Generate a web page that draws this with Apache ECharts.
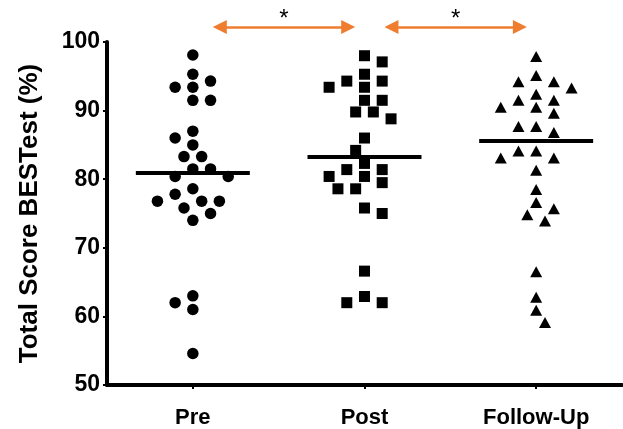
<!DOCTYPE html>
<html>
<head>
<meta charset="utf-8">
<script src="https://cdn.jsdelivr.net/npm/echarts@6/dist/echarts.min.js"></script>
<style>
  html, body { margin: 0; padding: 0; background: #fff; }
  #chart { width: 623px; height: 429px; }
</style>
</head>
<body>
<div id="chart"></div>
<script>
// ---- data ----
var groups = ['Pre', 'Post', 'Follow-Up'];
var preScores = [98.1, 95.3, 94.3, 93.4, 93.4, 91.5, 91.5, 87.0, 86.0, 85.0, 83.3, 83.3, 81.5, 81.5,
                 80.4, 80.4, 78.6, 77.8, 76.8, 76.8, 76.8, 75.8, 75.0, 74.0, 63.0, 62.0, 61.0, 54.6];
var postScores = [98.0, 97.1, 95.3, 94.3, 94.3, 93.4, 93.4, 91.5, 91.5, 89.8, 89.8, 88.8, 86.0, 84.2,
                  82.3, 81.4, 81.4, 80.4, 80.4, 79.5, 78.6, 78.6, 75.8, 75.0, 66.6, 62.9, 62.0, 62.0];
var followUpScores = [97.9, 95.1, 94.2, 94.2, 93.3, 92.4, 91.5, 91.5, 90.5, 90.5, 89.6, 87.7, 87.7, 86.8,
                      84.1, 84.1, 83.1, 83.1, 81.3, 78.5, 76.6, 75.7, 74.8, 73.9, 66.5, 62.8, 60.9, 59.1];
var groupMeans = [80.9, 83.2, 85.6];
var yTicks = [50, 60, 70, 80, 90, 100];
// significant pairwise comparisons (group index pairs)
var comparisons = [[0, 1], [1, 2]];
var comparisonLabels = ['*', '*'];

var allScores = [preScores, postScores, followUpScores];
var symbols = ['circle', 'rect', 'triangle'];
var symbolSizes = [11.5, 11, [12, 11]];

var FONT = '"Liberation Sans", Arial, sans-serif';
var ORANGE = '#EE7D2F';

var chart = echarts.init(document.getElementById('chart'), null, { renderer: 'canvas' });

var hiddenValueX = function (gridIndex) {
  return { type: 'value', gridIndex: gridIndex, min: -0.5, max: 2.5, show: false };
};

chart.setOption({
  animation: false,
  backgroundColor: '#fff',
  grid: [
    { left: 107, right: 1, top: 42, bottom: 43 },
    { left: 107, right: 1, top: 0, height: 42 } // strip above the plot for the comparison arrows
  ],
  xAxis: [
    {
      type: 'category',
      gridIndex: 0,
      data: groups,
      boundaryGap: true,
      axisLine: { lineStyle: { color: '#000', width: 4 } },
      axisTick: { show: true, alignWithLabel: true, length: 4, lineStyle: { color: '#000', width: 2 } },
      axisLabel: { color: '#000', fontFamily: FONT, fontWeight: 'bold', fontSize: 22, margin: 22 },
      splitLine: { show: false }
    },
    hiddenValueX(0),
    hiddenValueX(1)
  ],
  yAxis: [
    {
      type: 'value',
      gridIndex: 0,
      min: yTicks[0],
      max: yTicks[yTicks.length - 1],
      interval: 10,
      name: 'Total Score BESTest (%)',
      nameLocation: 'middle',
      nameGap: 64,
      nameTextStyle: { color: '#000', fontFamily: FONT, fontWeight: 'bold', fontSize: 26 },
      axisLine: { show: true, onZero: false, lineStyle: { color: '#000', width: 4 } },
      axisTick: { show: true, length: 4, lineStyle: { color: '#000', width: 2 } },
      axisLabel: { color: '#000', fontFamily: FONT, fontWeight: 'bold', fontSize: 23, margin: 7 },
      splitLine: { show: false }
    },
    { type: 'value', gridIndex: 1, min: 0, max: 1, show: false }
  ]
});

// simple beeswarm: place points from high to low, nudging sideways in fixed steps until free
var STEP_PX = 8.85, MIN_DIST_PX = 13;
function swarmOffsets(values, pxPerCat, pxPerVal) {
  var order = values.map(function (v, i) { return i; })
    .sort(function (a, b) { return values[b] - values[a]; });
  var placed = [], offsets = [], balance = 0;
  order.forEach(function (i) {
    var py = values[i] * pxPerVal;
    var free = function (k) {
      var px = k * STEP_PX;
      return placed.every(function (p) {
        var dx = p.x - px, dy = p.y - py;
        return dx * dx + dy * dy >= MIN_DIST_PX * MIN_DIST_PX;
      });
    };
    var k = 0;
    if (!free(0)) {
      for (var n = 1; n < 40; n++) {
        var first = balance > 0 ? -n : n, second = -first;
        if (free(first)) { k = first; break; }
        if (free(second)) { k = second; break; }
      }
    }
    balance += k;
    placed.push({ x: k * STEP_PX, y: py });
    offsets[i] = k * STEP_PX / pxPerCat;
  });
  return offsets;
}

var p0 = chart.convertToPixel({ xAxisIndex: 1, yAxisIndex: 0 }, [0, 50]);
var p1 = chart.convertToPixel({ xAxisIndex: 1, yAxisIndex: 0 }, [1, 60]);
var pxPerCat = p1[0] - p0[0];
var pxPerVal = (p0[1] - p1[1]) / 10;

var MEAN_HALF = 0.332;
var series = allScores.map(function (scores, g) {
  var offs = swarmOffsets(scores, pxPerCat, pxPerVal);
  return {
    name: groups[g],
    type: 'scatter',
    xAxisIndex: 1,
    yAxisIndex: 0,
    symbol: symbols[g],
    symbolSize: symbolSizes[g],
    itemStyle: { color: '#000', opacity: 1 },
    data: scores.map(function (v, i) { return [g + offs[i], v]; }),
    markLine: {
      silent: true,
      symbol: ['none', 'none'],
      label: { show: false },
      lineStyle: { color: '#000', width: 4, type: 'solid' },
      data: [[{ coord: [g - MEAN_HALF, groupMeans[g]] }, { coord: [g + MEAN_HALF, groupMeans[g]] }]]
    }
  };
});

var ARROW_LEVEL = 0.36, START_INSET = 0.157, END_INSET = 0.095;
series.push({
  name: 'comparisons',
  type: 'scatter',
  xAxisIndex: 2,
  yAxisIndex: 1,
  data: [],
  markLine: {
    silent: true,
    symbol: ['triangle', 'triangle'],
    symbolSize: [14, 14],
    lineStyle: { color: ORANGE, width: 2.5, type: 'solid' },
    label: {
      show: true,
      position: 'middle',
      color: '#000',
      fontFamily: FONT,
      fontSize: 24,
      distance: -4,
      formatter: function (p) { return comparisonLabels[p.dataIndex]; }
    },
    data: comparisons.map(function (c) {
      return [
        { coord: [c[0] + START_INSET, ARROW_LEVEL] },
        { coord: [c[1] - END_INSET, ARROW_LEVEL] }
      ];
    })
  }
});

chart.setOption({ series: series });
</script>
</body>
</html>
